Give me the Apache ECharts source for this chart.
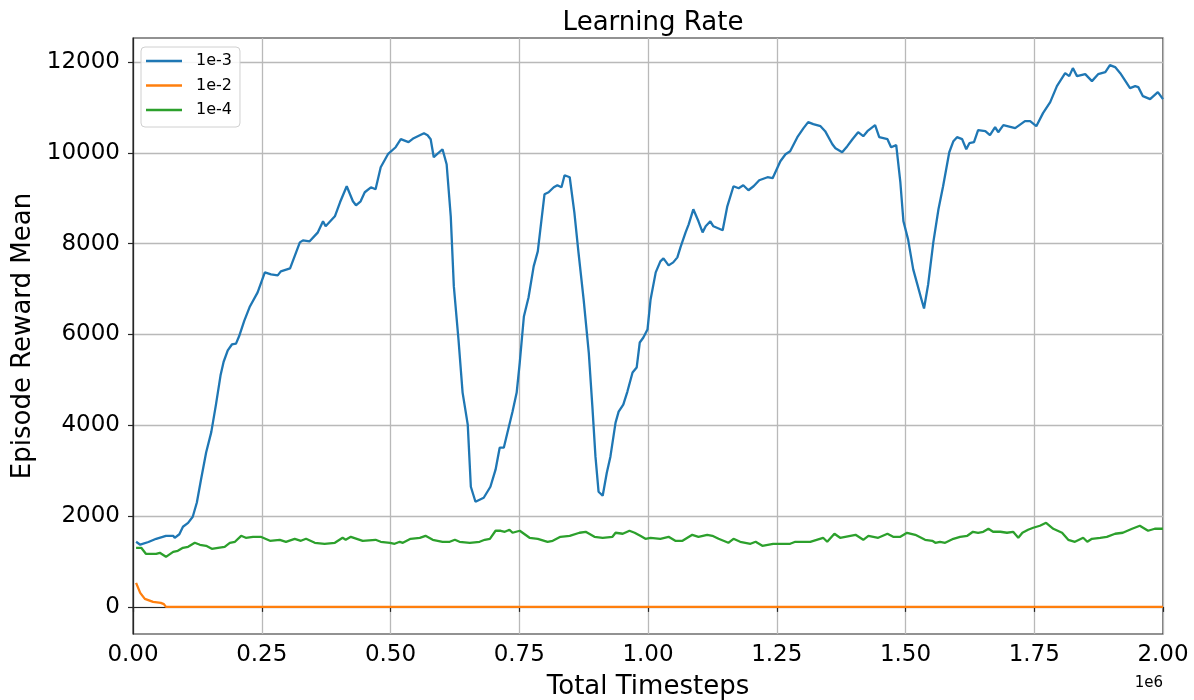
<!DOCTYPE html>
<html>
<head>
<meta charset="utf-8">
<title>Learning Rate</title>
<script src="https://cdn.jsdelivr.net/npm/echarts@6/dist/echarts.min.js"></script>
<style>
  html, body { margin: 0; padding: 0; background: #ffffff; }
  #chart { width: 1194px; height: 700px; }
</style>
</head>
<body>
<div id="chart"></div>
<script>
// Episode reward mean vs total timesteps, one run per learning rate.
// Points are [timestep, reward].
const lr1e3 = [
  [6000,1434],[14000,1370],[30000,1430],[45000,1500],[64000,1566],[78000,1566],[81000,1520],
  [90000,1600],[97000,1765],[107000,1850],[116000,1985],[124000,2300],[132000,2800],[142000,3400],
  [152000,3850],[161000,4450],[170000,5100],[176000,5400],[184000,5650],[192000,5780],[200000,5800],
  [206000,5960],[216000,6300],[227000,6618],[242000,6927],[256000,7368],[268000,7324],[281000,7302],
  [287000,7390],[305000,7456],[324000,8030],[330000,8074],[343000,8052],[359000,8250],[369000,8493],
  [374000,8383],[392000,8603],[402000,8912],[415000,9265],[427000,8934],[433000,8846],[442000,8934],
  [450000,9133],[462000,9243],[471000,9199],[481000,9684],[495000,9971],[510000,10125],[520000,10302],
  [535000,10236],[545000,10324],[565000,10434],[572000,10390],[578000,10302],[584000,9905],[601000,10081],
  [609000,9750],[617000,8603],[623000,7059],[632000,5890],[640000,4721],[650000,4015],[656000,2647],
  [665000,2316],[681000,2404],[694000,2647],[704000,3022],[712000,3507],[720000,3507],[727000,3838],
  [737000,4302],[745000,4721],[751000,5383],[759000,6397],[768000,6816],[778000,7500],[786000,7831],
  [791000,8316],[799000,9088],[807000,9133],[817000,9243],[824000,9287],[832000,9243],[838000,9508],
  [848000,9464],[857000,8692],[865000,7809],[875000,6772],[885000,5603],[892000,4412],[898000,3309],
  [904000,2537],[912000,2449],[920000,2956],[927000,3309],[937000,4059],[943000,4302],[952000,4456],
  [960000,4743],[970000,5162],[978000,5272],[984000,5824],[991000,5934],[999000,6110],[1005000,6772],
  [1015000,7368],[1024000,7611],[1030000,7677],[1040000,7522],[1049000,7589],[1057000,7699],[1063000,7920],
  [1073000,8250],[1079000,8427],[1088000,8758],[1098000,8493],[1106000,8250],[1112000,8383],[1121000,8493],
  [1127000,8383],[1145000,8295],[1154000,8824],[1166000,9265],[1176000,9221],[1185000,9287],[1195000,9177],
  [1205000,9265],[1216000,9398],[1232000,9464],[1242000,9442],[1257000,9817],[1267000,9971],[1276000,10037],
  [1290000,10346],[1302000,10545],[1311000,10677],[1321000,10633],[1335000,10589],[1344000,10479],
  [1358000,10192],[1364000,10104],[1377000,10015],[1387000,10148],[1397000,10302],[1408000,10456],
  [1418000,10368],[1426000,10479],[1441000,10611],[1449000,10346],[1465000,10302],[1472000,10125],
  [1482000,10170],[1490000,9354],[1496000,8493],[1505000,8096],[1515000,7434],[1523000,7103],[1531000,6772],
  [1536000,6574],[1544000,7103],[1554000,8030],[1564000,8758],[1573000,9265],[1585000,10015],[1593000,10258],
  [1600000,10346],[1610000,10302],[1618000,10081],[1624000,10214],[1633000,10236],[1641000,10501],
  [1655000,10479],[1664000,10390],[1674000,10567],[1680000,10456],[1690000,10611],[1713000,10545],
  [1732000,10699],[1742000,10699],[1754000,10589],[1767000,10876],[1781000,11118],[1794000,11471],
  [1810000,11757],[1818000,11691],[1825000,11868],[1833000,11691],[1849000,11735],[1862000,11581],
  [1874000,11735],[1888000,11779],[1897000,11934],[1907000,11890],[1917000,11757],[1936000,11427],
  [1946000,11471],[1952000,11449],[1961000,11250],[1975000,11184],[1990000,11339],[2000000,11184]
];

const lr1e2 = [
  [6000,529],[14000,309],[23000,176],[39000,110],[54000,88],[60000,60],[64000,0],[2000000,0]
];

const lr1e4 = [
  [6000,1302],[16000,1302],[25000,1169],[45000,1169],[52000,1191],[64000,1103],[78000,1213],[87000,1235],
  [97000,1302],[107000,1324],[120000,1412],[130000,1368],[142000,1346],[153000,1279],[165000,1302],
  [178000,1324],[188000,1412],[198000,1434],[210000,1566],[219000,1522],[233000,1544],[248000,1544],
  [266000,1456],[285000,1478],[297000,1434],[314000,1500],[326000,1456],[336000,1500],[353000,1412],
  [372000,1390],[392000,1412],[407000,1522],[413000,1478],[423000,1544],[446000,1456],[471000,1478],
  [481000,1434],[499000,1412],[508000,1390],[518000,1434],[524000,1412],[539000,1500],[557000,1522],
  [568000,1566],[582000,1478],[601000,1434],[615000,1434],[625000,1478],[634000,1434],[654000,1412],
  [673000,1434],[683000,1478],[693000,1500],[704000,1677],[714000,1677],[722000,1655],[731000,1699],
  [737000,1633],[751000,1677],[770000,1522],[786000,1500],[805000,1434],[815000,1456],[830000,1544],
  [848000,1566],[867000,1633],[879000,1655],[896000,1544],[912000,1522],[931000,1544],[937000,1633],
  [951000,1611],[964000,1677],[974000,1633],[985000,1566],[995000,1500],[1005000,1522],[1024000,1500],
  [1040000,1544],[1053000,1456],[1067000,1456],[1086000,1588],[1098000,1544],[1115000,1588],[1125000,1566],
  [1137000,1500],[1156000,1412],[1166000,1500],[1179000,1434],[1199000,1390],[1209000,1434],[1222000,1346],
  [1243000,1390],[1276000,1390],[1286000,1434],[1315000,1434],[1340000,1522],[1348000,1434],[1362000,1611],
  [1373000,1522],[1403000,1588],[1418000,1478],[1428000,1566],[1447000,1522],[1465000,1611],[1476000,1544],
  [1490000,1544],[1503000,1633],[1519000,1588],[1538000,1478],[1552000,1456],[1558000,1412],[1567000,1434],
  [1577000,1412],[1593000,1500],[1606000,1544],[1620000,1566],[1631000,1655],[1641000,1633],[1651000,1655],
  [1661000,1721],[1670000,1655],[1684000,1655],[1697000,1633],[1709000,1655],[1719000,1522],[1727000,1633],
  [1738000,1699],[1748000,1743],[1761000,1787],[1773000,1853],[1787000,1721],[1804000,1633],[1816000,1478],
  [1829000,1434],[1845000,1522],[1853000,1434],[1862000,1500],[1878000,1522],[1891000,1544],[1907000,1611],
  [1922000,1633],[1940000,1721],[1955000,1787],[1971000,1677],[1984000,1721],[2000000,1721]
];

const seriesNames = ['1e-3', '1e-2', '1e-4'];
const seriesColors = ['#1f77b4', '#ff7f0e', '#2ca02c'];
const seriesData = [lr1e3, lr1e2, lr1e4];

const xTicks = [0, 250000, 500000, 750000, 1000000, 1250000, 1500000, 1750000, 2000000];
const yTicks = [0, 2000, 4000, 6000, 8000, 10000, 12000];

const FONT = 'DejaVu Sans';
const AXIS_COLOR = '#262626';
const GRID_COLOR = '#b9b9b9';

const chart = echarts.init(document.getElementById('chart'), null, { renderer: 'canvas' });

chart.setOption({
  animation: false,
  backgroundColor: '#ffffff',
  title: {
    text: 'Learning Rate',
    left: 648,
    top: 5,
    textAlign: 'center',
    textStyle: { fontFamily: FONT, fontSize: 26, fontWeight: 'normal', color: '#000' }
  },
  legend: {
    orient: 'vertical',
    left: 141,
    top: 47,
    data: seriesNames,
    icon: 'rect',
    itemWidth: 36,
    itemHeight: 2.5,
    itemGap: 6.5,
    padding: [5, 8, 8, 5],
    backgroundColor: 'rgba(255,255,255,0.85)',
    borderColor: '#d0d0d0',
    borderWidth: 1,
    borderRadius: 4,
    textStyle: { fontFamily: FONT, fontSize: 16, color: '#000', lineHeight: 18, padding: [0, 0, 0, 9] }
  },
  grid: {
    left: 133, right: 31, top: 38, bottom: 66,
    outerBoundsMode: 'none',
    containLabel: false,
    show: true, borderColor: AXIS_COLOR, borderWidth: 1.2, backgroundColor: 'transparent'
  },
  xAxis: {
    type: 'value',
    min: xTicks[0],
    max: xTicks[xTicks.length - 1],
    interval: xTicks[1] - xTicks[0],
    name: 'Total Timesteps',
    nameLocation: 'middle',
    nameGap: 40,
    nameTextStyle: { fontFamily: FONT, fontSize: 26, color: '#000' },
    axisLine: { show: true, lineStyle: { color: AXIS_COLOR, width: 1.2 } },
    axisTick: { show: true, inside: false, length: 5, lineStyle: { color: AXIS_COLOR, width: 1.2 } },
    axisLabel: {
      fontFamily: FONT, fontSize: 23, color: '#000', margin: 10,
      formatter: v => (v / 1e6).toFixed(2)
    },
    splitLine: { show: true, lineStyle: { color: GRID_COLOR, width: 1.3 } }
  },
  yAxis: {
    type: 'value',
    min: -597,
    max: 12531,
    splitNumber: 6,
    name: 'Episode Reward Mean',
    nameLocation: 'middle',
    nameGap: 91,
    nameTextStyle: { fontFamily: FONT, fontSize: 26, color: '#000' },
    axisLine: { show: true, lineStyle: { color: AXIS_COLOR, width: 1.2 } },
    axisTick: {
      show: true, inside: false, length: 5, customValues: yTicks,
      lineStyle: { color: AXIS_COLOR, width: 1.2 }
    },
    axisLabel: {
      fontFamily: FONT, fontSize: 23, color: '#000', margin: 13,
      customValues: yTicks,
      formatter: v => String(v)
    },
    splitLine: { show: true, lineStyle: { color: GRID_COLOR, width: 1.3 } }
  },
  graphic: [{
    type: 'text',
    right: 31,
    top: 676,
    style: { text: '1e6', font: '15px "DejaVu Sans"', fill: '#000' }
  }],
  series: seriesData.map((d, i) => ({
    name: seriesNames[i],
    type: 'line',
    data: d,
    showSymbol: false,
    symbol: 'none',
    clip: true,
    lineStyle: { color: seriesColors[i], width: 2.3 },
    itemStyle: { color: seriesColors[i] },
    z: 2 + i
  }))
});
</script>
</body>
</html>
